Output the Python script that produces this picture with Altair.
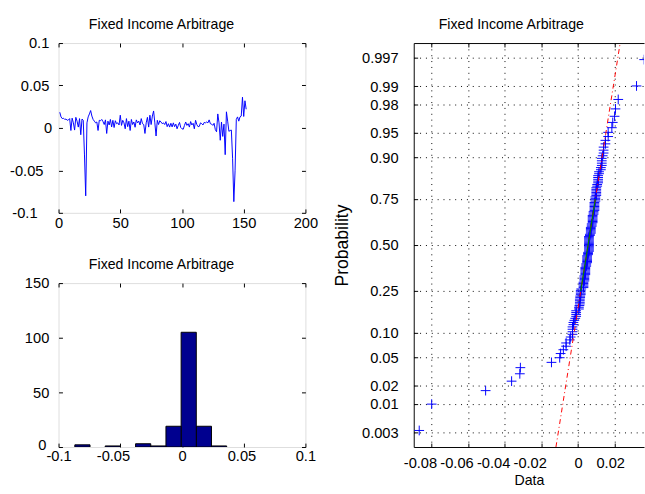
import statistics
import altair as alt
import pandas as pd

# ---------------- data ----------------
returns = [
    0.0185, 0.0130, 0.0110, 0.0115, 0.0100, 0.0105, 0.0090, 0.0095, 0.0110, -0.0030,
    0.0115, 0.0060, -0.0025, 0.0125, 0.0080, 0.0010, 0.0110, -0.0080, 0.0105, 0.0090,
    -0.0318, -0.0800, 0.0060, 0.0130, 0.0165, 0.0205, 0.0140, 0.0100, 0.0080, 0.0060,
    0.0070, -0.0030, 0.0090, 0.0085, 0.0100, 0.0075, 0.0040, 0.0095, -0.0065, 0.0080,
    0.0035, 0.0100, 0.0012, 0.0090, 0.0005, 0.0085, 0.0050, 0.0060, 0.0035, 0.0150,
    0.0030, 0.0090, 0.0060, -0.0010, 0.0110, 0.0015, 0.0080, -0.0030, 0.0100, 0.0040,
    0.0070, 0.0008, 0.0095, 0.0060, 0.0080, 0.0035, 0.0110, 0.0050, 0.0040, -0.0065,
    0.0060, 0.0125, 0.0010, 0.0150, 0.0040, 0.0140, 0.0200, 0.0060, -0.0095, 0.0090,
    0.0040, 0.0085, 0.0070, 0.0050, 0.0060, 0.0040, 0.0075, 0.0015, 0.0050, 0.0010,
    0.0055, 0.0012, 0.0060, 0.0015, 0.0045, -0.0010, 0.0030, 0.0065, 0.0005, -0.0010,
    -0.0015, 0.0030, 0.0070, 0.0030, 0.0050, 0.0010, 0.0075, 0.0035, 0.0055, -0.0010,
    0.0090, 0.0040, 0.0015, 0.0018, 0.0060, 0.0050, 0.0035, 0.0065, 0.0060, 0.0070,
    0.0060, 0.0095, 0.0050, 0.0045, 0.0030, 0.0055, -0.0020, -0.0045, 0.0165, 0.0060,
    -0.0145, 0.0070, -0.0100, 0.0045, -0.0315, 0.0190, 0.0080, -0.0040, -0.0030, -0.0025,
    -0.0363, -0.0868, -0.0505, 0.0100, 0.0130, 0.0080, 0.0130, 0.0140, 0.0362, 0.0135,
    0.0320, 0.0220,
]
period = list(range(1, len(returns) + 1))

ts_xticks = [0, 50, 100, 150, 200]
ts_yticks = [-0.1, -0.05, 0, 0.05, 0.1]
hist_xticks = [-0.1, -0.05, 0, 0.05, 0.1]
hist_yticks = [0, 50, 100, 150]
hist_nbins = 10
prob_xticks = [-0.08, -0.06, -0.04, -0.02, 0, 0.02]
prob_ticks = [0.003, 0.01, 0.02, 0.05, 0.10, 0.25, 0.50, 0.75, 0.90, 0.95, 0.98, 0.99, 0.997]

TITLE = "Fixed Income Arbitrage"
FN = "Liberation Sans, Arial, Helvetica, sans-serif"
BLACK = "#000000"
TICK_FS = 15
TITLE_FS = 14.5

df = pd.DataFrame({"t": period, "r": returns})
title_df = pd.DataFrame({"label": [TITLE]})

# normal-probability scale: tick positions through the inverse normal cdf
nd = statistics.NormalDist()
prob_zticks = [nd.inv_cdf(p) for p in prob_ticks]


def axis(orient, values, labels=False, pad=0, offset=-4, tick=4, domain=False,
         grid=False, title=None, extent=0, fmt="toString(datum.value)", **extra):
    d = dict(orient=orient, values=values, labels=labels, offset=offset,
             ticks=tick > 0, tickSize=tick, domain=domain, grid=grid, title=title,
             tickColor=BLACK, tickWidth=1, domainColor=BLACK, domainWidth=1,
             minExtent=extent, maxExtent=extent)
    if labels:
        d.update(labelPadding=pad, labelExpr=fmt, labelFont=FN, labelFontSize=TICK_FS,
                 labelColor=BLACK, labelFlush=False, labelOverlap=False)
    d.update(extra)
    return alt.Axis(**d)


def title_text(x):
    return alt.Chart(title_df).mark_text(
        font=FN, fontSize=TITLE_FS, color=BLACK, align="center", baseline="alphabetic"
    ).encode(text="label:N", x=alt.value(x), y=alt.value(-14))


# ---------------- panel 1: time series ----------------
W1, H1 = 253, 174
ts_x = alt.Scale(domain=[0, 200], nice=False, zero=False)
ts_y = alt.Scale(domain=[-0.1, 0.1], nice=False)
ts_ypad = {"condition": [{"test": "datum.value < -0.07", "value": 22},
                         {"test": "datum.value < 0", "value": 16},
                         {"test": "datum.value == 0", "value": 7}],
           "value": 10}
ts_base = alt.Chart(df)
ts_line = ts_base.mark_line(color="#0000ff", strokeWidth=1, clip=True).encode(
    x=alt.X("t:Q", scale=ts_x, axis=axis("bottom", ts_xticks, labels=True, pad=3, extent=20)),
    y=alt.Y("r:Q", scale=ts_y, axis=axis("left", ts_yticks, labels=True, pad=ts_ypad, extent=63)),
)
ts_frame = ts_base.mark_line(opacity=0, clip=True).encode(
    x=alt.X("t:Q", scale=ts_x, axis=axis("top", ts_xticks)),
    y=alt.Y("r:Q", scale=ts_y, axis=axis("right", ts_yticks)),
)
ts_chart = alt.layer(ts_line, ts_frame, title_text(W1 / 2 - 21)).resolve_axis(
    x="independent", y="independent"
).properties(width=W1, height=H1)

# ---------------- panel 2: histogram ----------------
W2, H2 = 253, 168
lo, hi = min(returns), max(returns)
h_x = alt.Scale(domain=[-0.1, 0.1], nice=False, zero=False)
h_y = alt.Scale(domain=[0, 150], nice=False)
h_xoff = {"condition": [{"test": "abs(datum.value + 0.05) < 1e-9", "value": -7.5},
                        {"test": "abs(datum.value - 0.05) < 1e-9", "value": -2.3}],
          "value": 0}
h_ypad = {"condition": [{"test": "datum.value == 0", "value": 13}], "value": 10}
h_yoff = {"condition": [{"test": "datum.value == 0", "value": -2}], "value": 0}
h_base = alt.Chart(df).transform_bin(
    as_=["b0", "b1"], field="r",
    bin=alt.Bin(extent=[lo, hi], step=(hi - lo) / hist_nbins, nice=False),
).transform_aggregate(n="count()", groupby=["b0", "b1"])
h_bars = h_base.mark_rect(fill="#00008f", stroke=BLACK, strokeWidth=1, clip=True).encode(
    x=alt.X("b0:Q", scale=h_x, axis=axis("bottom", hist_xticks, labels=True, pad=2,
                                         extent=20, labelOffset=h_xoff)),
    x2="b1:Q",
    y=alt.Y("n:Q", scale=h_y, axis=axis("left", hist_yticks, labels=True, pad=h_ypad,
                                        extent=63, labelOffset=h_yoff)),
    y2=alt.datum(0),
)
h_frame = h_base.mark_rect(opacity=0).encode(
    x=alt.X("b0:Q", scale=h_x, axis=axis("top", hist_xticks)),
    x2="b1:Q",
    y=alt.Y("n:Q", scale=h_y, axis=axis("right", hist_yticks)),
    y2=alt.datum(0),
)
h_chart = alt.layer(h_bars, h_frame, title_text(W2 / 2 - 21)).resolve_axis(
    x="independent", y="independent"
).properties(width=W2, height=H2)

# ---------------- panel 3: normal probability plot ----------------
W3, H3 = 236, 414
p_x = alt.Scale(domain=[-0.0898, 0.0361], nice=False, zero=False)
p_y = alt.Scale(domain=[-2.96, 2.96], nice=False, zero=False)
prob_fmt = ("format(cumulativeNormal(datum.value), "
            "(cumulativeNormal(datum.value) > 0.995 || cumulativeNormal(datum.value) < 0.005)"
            " ? '.3f' : '.2f')")
grid_style = dict(gridColor=BLACK, gridDash=[1, 5], gridWidth=1, gridOpacity=1)
p_xoff = {"condition": [{"test": "datum.value < 0", "value": -12},
                        {"test": "datum.value > 0", "value": -4.5}],
          "value": 0}

p_pts = alt.Chart(df).transform_window(
    rank="row_number()", sort=[alt.SortField("r", order="ascending")]
).transform_joinaggregate(n="count()").transform_calculate(
    z="quantileNormal((datum.rank - 0.5) / datum.n)"
).mark_point(
    shape="M-1,0L1,0M0,-1L0,1", size=100, filled=False, color="#0000ff",
    strokeWidth=1, opacity=1, clip=True,
).encode(
    x=alt.X("r:Q", scale=p_x, axis=axis(
        "bottom", prob_xticks, labels=True, pad=9, offset=0, tick=0, domain=True,
        grid=True, title="Data", titleFont=FN, titleFontSize=TITLE_FS,
        titleFontWeight="normal", titleColor=BLACK, titlePadding=2, extent=25,
        labelOffset=p_xoff, **grid_style)),
    y=alt.Y("z:Q", scale=p_y, axis=axis(
        "left", prob_zticks, labels=True, pad=16, offset=0, tick=0, domain=True,
        grid=True, fmt=prob_fmt, title="Probability", titleFont=FN, titleFontSize=18,
        titleFontWeight="normal", titleColor=BLACK, titlePadding=14, extent=50,
        **grid_style)),
)

q_base = alt.Chart(df).transform_quantile(
    "r", probs=[0.25, 0.75], as_=["prob", "q"]
).transform_joinaggregate(q1="min(q)", q3="max(q)").transform_calculate(
    zq="quantileNormal(datum.prob)",
    zz="datum.prob < 0.5 ? -3.3 : 3.3",
).transform_calculate(
    xx="(datum.q1 + datum.q3) / 2 + (datum.q3 - datum.q1) / (2 * quantileNormal(0.75)) * datum.zz"
)
p_red = q_base.mark_line(color="#ff0000", strokeWidth=1, strokeDash=[5, 3, 1, 3], clip=True).encode(
    x=alt.X("xx:Q", scale=p_x, axis=axis("top", prob_xticks, offset=0, tick=0, domain=True)),
    y=alt.Y("zz:Q", scale=p_y, axis=None),
)
p_green = q_base.mark_line(color="#008000", strokeWidth=1.2, clip=True).encode(
    x=alt.X("q:Q", scale=p_x, axis=axis("bottom", prob_xticks)),
    y=alt.Y("zq:Q", scale=p_y, axis=axis("left", prob_zticks)),
)
p_ghost = alt.Chart(df).mark_point(opacity=0, clip=True).encode(
    x=alt.X("r:Q", scale=p_x, axis=axis("top", prob_xticks)),
    y=alt.Y("r:Q", scale=p_y, axis=None),
)
p_chart = alt.layer(p_pts, p_red, p_green, p_ghost, title_text(W3 / 2 - 18)).resolve_axis(
    x="independent", y="independent"
).properties(
    width=W3, height=H3,
    view=alt.ViewBackground(stroke="transparent"),
)

left = alt.vconcat(ts_chart, h_chart, spacing=72, bounds="flush")
chart = alt.hconcat(left, p_chart, spacing=14).properties(
    padding={"left": 0, "top": 11, "right": 0, "bottom": 0},
).configure_view(stroke=BLACK, strokeWidth=1).configure(font=FN)

chart.save("out.html", embed_options={"renderer": "svg", "actions": False})
